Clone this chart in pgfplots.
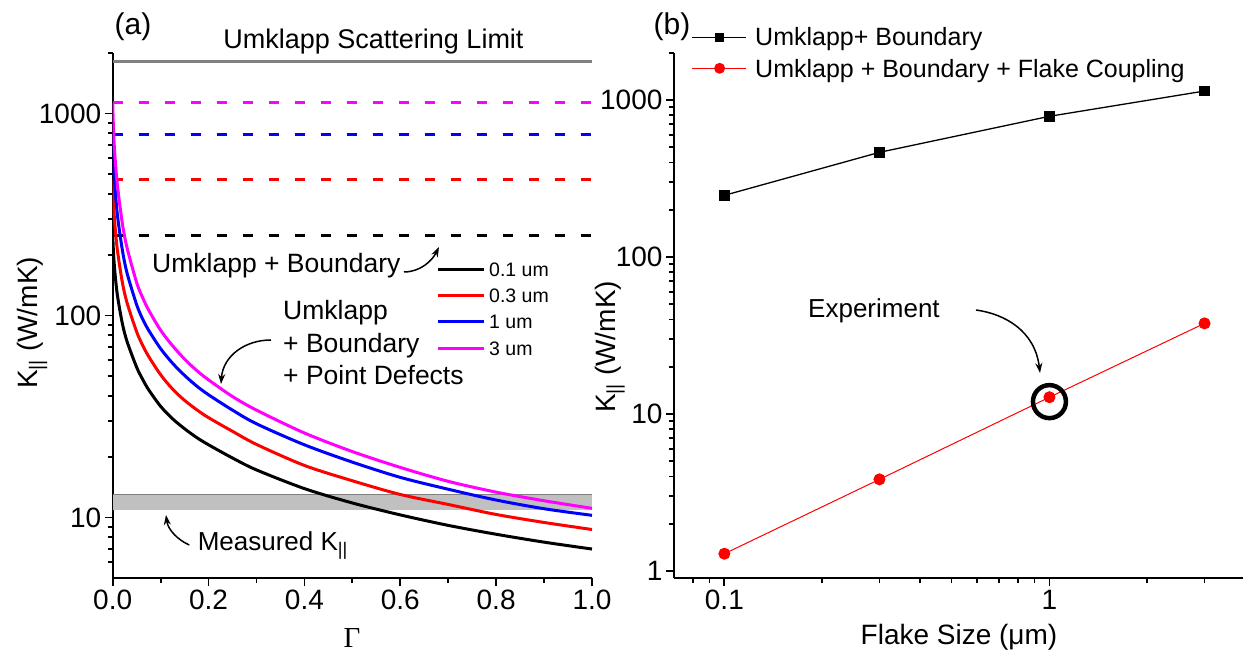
\documentclass[border=0pt]{standalone}
\usepackage{fontspec}
\setmainfont{Liberation Sans}
\newfontfamily\serif{Liberation Serif}
\usepackage{pgfplots}
\pgfplotsset{compat=1.18}
\usetikzlibrary{arrows.meta}

\newcommand\fs[1]{\fontsize{#1}{#1}\selectfont}
\definecolor{limgray}{RGB}{128,128,128}
\definecolor{bandgray}{RGB}{192,192,192}
\definecolor{mag}{RGB}{255,0,255}
\definecolor{rd}{RGB}{255,0,0}
\definecolor{bl}{RGB}{0,0,255}

\pgfplotsset{
  panel/.style={
    scale only axis, height=525.6pt,
    axis x line*=bottom, axis y line*=left,
    axis line style={line width=2pt},
    tick style={line width=1.8pt, black},
    tick align=outside,
    major tick length=8pt, minor tick length=5pt,
    tick label style={font=\fs{28}},
    /pgf/number format/assume math mode=true,
    /pgf/number format/1000 sep={},
  },
  curve/.style={line width=3pt, smooth},
  hline/.style={line width=3pt, dash pattern=on 10pt off 16pt},
}

\begin{document}
\begin{tikzpicture}
\path[use as bounding box] (0,0) rectangle (1243pt,656pt);

% (a) thermal conductivity vs point-defect parameter
\begin{axis}[panel, at={(112.7pt,77.7pt)}, anchor=south west, width=479.3pt,
  xmin=0, xmax=1, ymode=log, ymin=5, ymax=2000,
  xtick={0,0.2,0.4,0.6,0.8,1}, minor xtick={0.1,0.3,0.5,0.7,0.9},
  ytick={10,100,1000},
  minor ytick={6,7,8,9,20,30,40,50,60,70,80,90,200,300,400,500,600,700,800,900,2000},
  log ticks with fixed point,
  xticklabel style={/pgf/number format/.cd, fixed, fixed zerofill, precision=1},
]
  % measured band
  \addplot[draw=none, fill=bandgray] coordinates {(0,10.9) (1,10.9) (1,13) (0,13)} -- cycle;
  \addplot[limgray, line width=1.2pt] coordinates {(0,13) (1,13)};
  % umklapp limit
  \addplot[limgray, line width=3pt] coordinates {(0,1800) (1,1800)};
  % umklapp + boundary
  \addplot[black, hline] coordinates {(0,250) (1,250)};
  \addplot[rd, hline] coordinates {(0,470) (1,470)};
  \addplot[bl, hline] coordinates {(0,790) (1,790)};
  \addplot[mag, hline] coordinates {(0,1130) (1,1130)};
  % + point defects
  \addplot[black, curve] coordinates {
    (0,250) (0.002,198) (0.005,160) (0.01,125) (0.02,91.6) (0.03,74.3) (0.05,55.4)
    (0.0625,48.3) (0.075,42.9) (0.1,35.5) (0.125,30.8) (0.15,27.5) (0.175,24.9)
    (0.2,22.9) (0.25,19.7) (0.3,17.2) (0.4,13.9) (0.5,11.8) (0.6,10.3) (0.7,9.14)
    (0.8,8.26) (0.9,7.55) (1,6.98)};
  \addplot[rd, curve] coordinates {
    (0,470) (0.002,350) (0.005,274) (0.01,209) (0.02,146.5) (0.03,115.5) (0.05,83)
    (0.0625,71.2) (0.075,62.7) (0.1,50.9) (0.125,43.2) (0.15,38.0) (0.175,34.2)
    (0.2,31.2) (0.25,26.7) (0.3,23.0) (0.4,18.1) (0.5,15.2) (0.6,13.0) (0.7,11.6)
    (0.8,10.35) (0.9,9.45) (1,8.72)};
  \addplot[bl, curve] coordinates {
    (0,790) (0.002,560) (0.005,425) (0.01,312) (0.02,212) (0.03,162) (0.05,113)
    (0.0625,96) (0.075,84.5) (0.1,68.5) (0.125,58.0) (0.15,50.5) (0.175,44.8)
    (0.2,40.5) (0.25,34) (0.3,29.1) (0.4,22.9) (0.5,18.8) (0.6,15.8) (0.7,13.8)
    (0.8,12.2) (0.9,11.05) (1,10.25)};
  \addplot[mag, curve] coordinates {
    (0,1130) (0.002,790) (0.005,600) (0.01,437) (0.02,287) (0.03,216) (0.05,145.5)
    (0.0625,122.5) (0.075,106.4) (0.1,84.5) (0.125,70.8) (0.15,60.8) (0.175,53.5)
    (0.2,48.0) (0.25,39.7) (0.3,34) (0.4,26.2) (0.5,21.2) (0.6,17.7) (0.7,15.1)
    (0.8,13.35) (0.9,12.1) (1,11.1)};
\end{axis}

% (b) conductivity vs flake size
\begin{axis}[panel, at={(674pt,77.7pt)}, anchor=south west, width=569pt,
  xmode=log, ymode=log, xmin=0.07, xmax=3.94, ymin=0.9, ymax=2000,
  xtick={0.1,1}, minor xtick={0.08,0.09,0.2,0.3,0.4,0.5,0.6,0.7,0.8,0.9,2,3},
  ytick={1,10,100,1000},
  minor ytick={2,3,4,5,6,7,8,9,20,30,40,50,60,70,80,90,200,300,400,500,600,700,800,900,2000},
  log ticks with fixed point,
]
  \addplot[black, line width=1.3pt, mark=square*, mark size=4.8pt] coordinates {
    (0.1,247) (0.3,464) (1,787) (3,1140)};
  \addplot[rd, line width=1pt, mark=*, mark size=5.5pt] coordinates {
    (0.1,1.29) (0.3,3.84) (1,12.8) (3,37.8)};
  \draw[line width=4.5pt] (axis cs:1,12) circle[radius=16.5pt];
\end{axis}

% panel (a) text
\node[font=\fs{30}] at (133pt,629pt) {(a)};
\node[font=\fs{27}, anchor=base] at (373.5pt,607pt) {Umklapp Scattering Limit};
\node[font=\fs{26.5}, anchor=base west, inner sep=0] at (152pt,383pt) {Umklapp + Boundary};
\draw[line width=1.5pt, -{Stealth[length=10pt,width=7pt]}] (404pt,384pt) .. controls (420pt,384pt) and (432pt,395pt) .. (439pt,409pt);
\foreach \c/\y/\t in {black/269.3/0.1 um, rd/295.7/0.3 um, bl/321.7/1 um, mag/348.3/3 um}{
  \draw[\c, line width=3pt] (437.5pt,656pt-\y pt) -- (484pt,656pt-\y pt);
  \node[font=\fs{19.5}, anchor=west, inner sep=0] at (489pt,656pt-\y pt) {\t};
}
\node[font=\fs{26.5}, anchor=base west, inner sep=0] at (283pt,336pt) {Umklapp};
\node[font=\fs{26.5}, anchor=base west, inner sep=0] at (283pt,303pt) {+ Boundary};
\node[font=\fs{26.5}, anchor=base west, inner sep=0] at (283pt,271pt) {+ Point Defects};
\draw[line width=1.5pt, -{Stealth[length=10pt,width=7pt]}] (271pt,316pt) .. controls (245pt,316pt) and (223pt,300pt) .. (221pt,272pt);
\node[font=\fs{26}, anchor=base west, inner sep=0] at (197.6pt,105.3pt) {Measured K\textsubscript{||}};
\draw[line width=1.5pt, -{Stealth[length=10pt,width=7pt]}] (189.3pt,111pt) .. controls (178pt,116pt) and (168pt,126pt) .. (166pt,141pt);
\node[font=\fs{28}, rotate=90, anchor=base] at (37.5pt,333pt) {K\textsubscript{||} (W/mK)};
\node[font=\serif\fs{29}] at (352pt,18pt) {Γ};

% panel (b) text
\node[font=\fs{30}] at (672pt,629pt) {(b)};
\draw[black, line width=1.2pt] (692pt,618.3pt) -- (746pt,618.3pt);
\node[fill=black, minimum size=9.6pt, inner sep=0] at (719.6pt,618.3pt) {};
\draw[rd, line width=1pt] (692pt,587.7pt) -- (746pt,587.7pt);
\node[fill=rd, circle, minimum size=11pt, inner sep=0] at (719.6pt,587.7pt) {};
\node[font=\fs{25}, anchor=base west, inner sep=0] at (755pt,610pt) {Umklapp+ Boundary};
\node[font=\fs{25}, anchor=base west, inner sep=0] at (755pt,578.7pt) {Umklapp + Boundary + Flake Coupling};
\node[font=\fs{26}, anchor=base west, inner sep=0] at (808pt,338pt) {Experiment};
\draw[line width=1.5pt, -{Stealth[length=10pt,width=7pt]}] (976pt,346pt) .. controls (1005pt,342pt) and (1035pt,325pt) .. (1040pt,283pt);
\node[font=\fs{28}, rotate=90, anchor=base] at (615pt,309pt) {K\textsubscript{||} (W/mK)};
\node[font=\fs{28}, anchor=base] at (959pt,11pt) {Flake Size (μm)};
\end{tikzpicture}
\end{document}
